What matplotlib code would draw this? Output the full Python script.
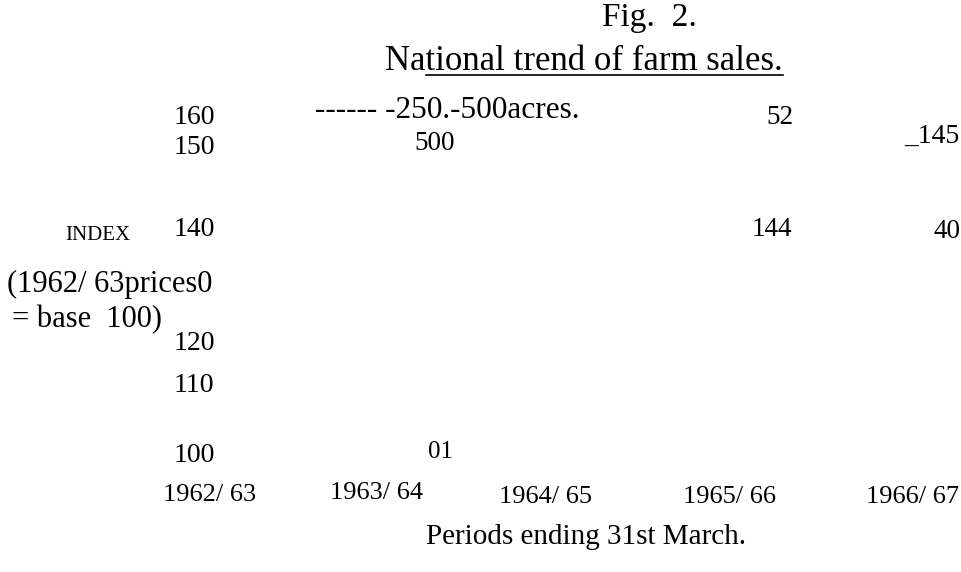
import matplotlib
matplotlib.use('Agg')
import matplotlib.pyplot as plt

plt.rcParams['font.family'] = ['Liberation Serif', 'DejaVu Serif']

W, H = 961, 572

# Textos del gráfico (figura escaneada, solo quedan las etiquetas)
fig_label = 'Fig.  2.'
title = 'National trend of farm sales.'
title_plain_prefix = 'Na'   # la parte sin subrayar
legend_text = '------ -250.-500acres.'
y_ticks = ['160', '150', '140', '120', '110', '100']
y_label = ['INDEX', '(1962/ 63prices0', '= base  100)']
periods = ['1962/ 63', '1963/ 64', '1964/ 65', '1965/ 66', '1966/ 67']
x_label = 'Periods ending 31st March.'
stray_labels = ['500', '52', '_145', '144', '40', '01']

# Posiciones (píxeles, origen arriba a la izquierda) y tamaños
y_tick_x = 174
y_tick_y = [118, 148, 229, 343, 385, 456]
y_label_x = [65, 7, 12]
y_label_y = [235, 284, 320]
y_label_size = [15, 22, 22]
period_x = [163, 330, 499, 683, 866]
period_y = [495, 493, 497, 497, 497]
stray_x = [414, 766, 904, 752, 933, 428]
stray_y = [143, 118, 136, 229, 231, 452]
stray_size = [19.5, 19.5, 20, 19.5, 19.5, 18]

fig = plt.figure(figsize=(W / 100, H / 100), dpi=100)
ax = fig.add_axes([0, 0, 1, 1])
ax.set_xlim(0, W)
ax.set_ylim(H, 0)
ax.axis('off')

ax.text(602, 18, fig_label, fontsize=24, va='center', ha='left')
t = ax.text(385, 61, title, fontsize=25, va='center', ha='left')
ax.text(315, 110, legend_text, fontsize=22.5, va='center', ha='left')

for lab, yy in zip(y_ticks, y_tick_y):
    ax.text(y_tick_x, yy, lab, fontsize=20, va='center', ha='left')

for lab, xx, yy, s in zip(y_label, y_label_x, y_label_y, y_label_size):
    ax.text(xx, yy, lab, fontsize=s, va='center', ha='left')

for lab, xx, yy in zip(periods, period_x, period_y):
    ax.text(xx, yy, lab, fontsize=19, va='center', ha='left')

for lab, xx, yy, s in zip(stray_labels, stray_x, stray_y, stray_size):
    ax.text(xx, yy, lab, fontsize=s, va='center', ha='left')

ax.text(426, 537, x_label, fontsize=21, va='center', ha='left')

# subrayado del título a partir de "ti..."
fig.canvas.draw()
r = fig.canvas.get_renderer()
bb = t.get_window_extent(r)
tmp = ax.text(385, 61, title_plain_prefix, fontsize=25, va='center', ha='left')
pb = tmp.get_window_extent(r)
tmp.remove()
inv = ax.transData.inverted()
x0, _ = inv.transform((pb.x1, pb.y0))
x1, yb = inv.transform((bb.x1, bb.y0))
ax.plot([x0, x1], [yb - 3, yb - 3], color='black', lw=1.2)

fig.savefig('out.png', dpi=100)
